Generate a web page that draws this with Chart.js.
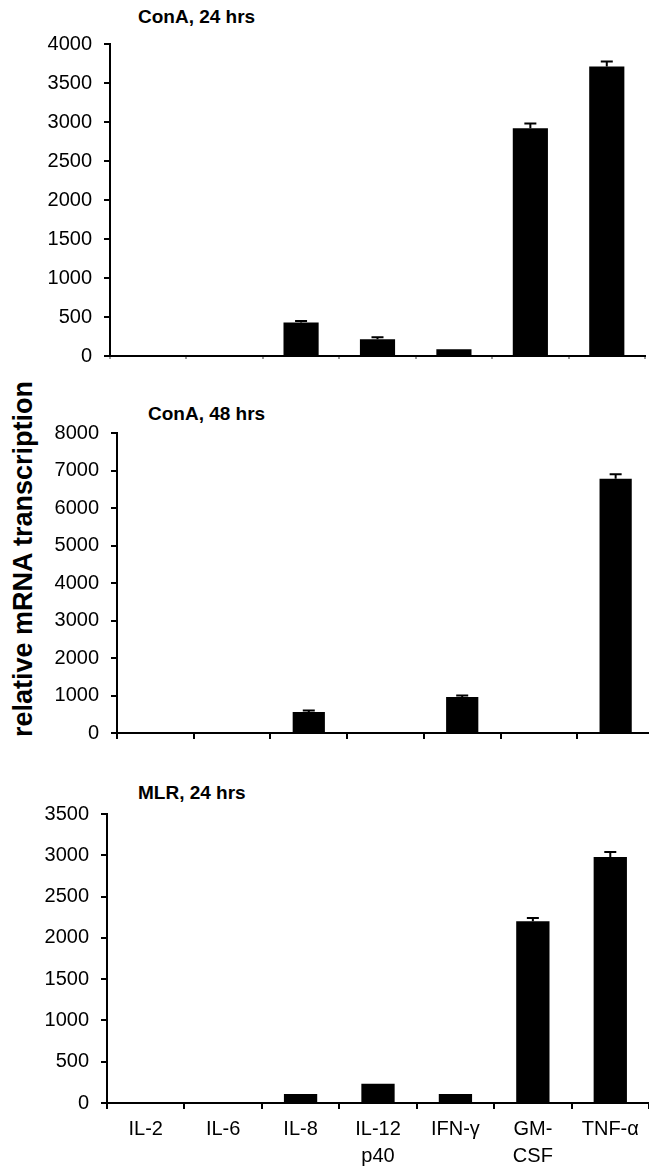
<!DOCTYPE html>
<html>
<head>
<meta charset="utf-8">
<script src="https://cdn.jsdelivr.net/npm/chart.js@4.4.0/dist/chart.umd.min.js"></script>
<style>
html, body { margin: 0; padding: 0; background: #fff; overflow: hidden; }
body { position: relative; width: 649px; height: 1174px; }
canvas { position: absolute; left: 0; }
.ttl { position: absolute; font: bold 19px "Liberation Sans", Arial, sans-serif; color: #000; white-space: nowrap; line-height: 1; }
#ytitle { position: absolute; left: 23px; top: 559px; transform: translate(-50%, -50%) rotate(-90deg);
          font: bold 27px "Liberation Sans", Arial, sans-serif; color: #000; white-space: nowrap; line-height: 1; }
</style>
</head>
<body>
<div class="ttl" style="left:138px;top:7px">ConA, 24 hrs</div>
<div class="ttl" style="left:148px;top:404px">ConA, 48 hrs</div>
<div class="ttl" style="left:138px;top:783px">MLR, 24 hrs</div>
<div id="ytitle">relative mRNA transcription</div>
<canvas id="c1"></canvas>
<canvas id="c2"></canvas>
<canvas id="c3"></canvas>
<script>
// categories
var cytokines = ['IL-2', 'IL-6', 'IL-8', ['IL-12', 'p40'], 'IFN-\u03b3', ['GM-', 'CSF'], 'TNF-\u03b1'];

// ConA, 24 hrs
var conA24 = [0, 0, 430, 215, 88, 2920, 3710];
var conA24Err = [0, 0, 20, 25, 0, 60, 65];

// ConA, 48 hrs
var conA48 = [0, 0, 560, 0, 960, 0, 6780];
var conA48Err = [0, 0, 40, 0, 40, 0, 120];

// MLR, 24 hrs
var mlr24 = [0, 0, 110, 234, 110, 2200, 2980];
var mlr24Err = [0, 0, 0, 0, 0, 40, 60];

var FONT = '"Liberation Sans", Arial, sans-serif';

// draws the error bars above each bar
var errorBars = {
    id: 'errorBars',
    afterDatasetsDraw: function(chart) {
        var ctx = chart.ctx, y = chart.scales.y;
        chart.data.datasets.forEach(function(ds, i) {
            var meta = chart.getDatasetMeta(i);
            meta.data.forEach(function(bar, j) {
                var e = ds.errs[j];
                if (!e) return;
                var top = y.getPixelForValue(ds.data[j] + e);
                ctx.save();
                ctx.strokeStyle = '#000';
                ctx.lineWidth = 2;
                ctx.beginPath();
                ctx.moveTo(bar.x, bar.y);
                ctx.lineTo(bar.x, top);
                ctx.moveTo(bar.x - 6, top);
                ctx.lineTo(bar.x + 6, top);
                ctx.stroke();
                ctx.restore();
            });
        });
    }
};

function makePanel(id, values, errs, p) {
    var canvas = document.getElementById(id);
    canvas.width = p.width;
    canvas.height = p.height;
    canvas.style.top = p.top + 'px';
    canvas.style.width = p.width + 'px';
    canvas.style.height = p.height + 'px';

    return new Chart(canvas.getContext('2d'), {
        type: 'bar',
        data: {
            labels: cytokines,
            datasets: [{
                data: values,
                errs: errs,
                backgroundColor: '#000',
                borderWidth: 0,
                barPercentage: p.bar,
                categoryPercentage: 1
            }]
        },
        options: {
            responsive: false,
            animation: false,
            devicePixelRatio: 1,
            layout: { padding: { top: p.padTop, right: p.padRight, left: 0, bottom: 0 } },
            plugins: { legend: { display: false }, tooltip: { enabled: false }, title: { display: false } },
            scales: {
                x: {
                    grid: { offset: true, drawOnChartArea: false, tickLength: p.xTick, color: p.xTickColor, lineWidth: 2 },
                    border: { color: '#000', width: 2 },
                    ticks: { display: p.labels, color: '#000', font: { family: FONT, size: 20, lineHeight: 1.35 },
                             padding: 7, maxRotation: 0, minRotation: 0, autoSkip: false },
                    afterFit: function(a) { a.height = p.xHeight; }
                },
                y: {
                    min: 0,
                    max: p.max,
                    ticks: { stepSize: p.step, color: '#000', font: { family: FONT, size: 20 }, padding: 12,
                             callback: function(v) { return String(v); } },
                    grid: { drawOnChartArea: false, tickLength: 6, color: '#000', lineWidth: 2 },
                    border: { color: '#000', width: 2 },
                    afterFit: function(a) { a.width = p.left; }
                }
            }
        },
        plugins: [errorBars]
    });
}

makePanel('c1', conA24, conA24Err, {
    top: 0, width: 649, height: 380, padTop: 44, padRight: 4, left: 110,
    xHeight: 18, xTick: 3, xTickColor: '#999', labels: false, max: 4000, step: 500, bar: 0.46
});
makePanel('c2', conA48, conA48Err, {
    top: 390, width: 660, height: 380, padTop: 43, padRight: 6, left: 117,
    xHeight: 37, xTick: 6, xTickColor: '#000', labels: false, max: 8000, step: 1000, bar: 0.42
});
makePanel('c3', mlr24, mlr24Err, {
    top: 780, width: 649, height: 394, padTop: 34, padRight: 0, left: 107,
    xHeight: 71, xTick: 6, xTickColor: '#000', labels: true, max: 3500, step: 500, bar: 0.43
});
</script>
</body>
</html>
